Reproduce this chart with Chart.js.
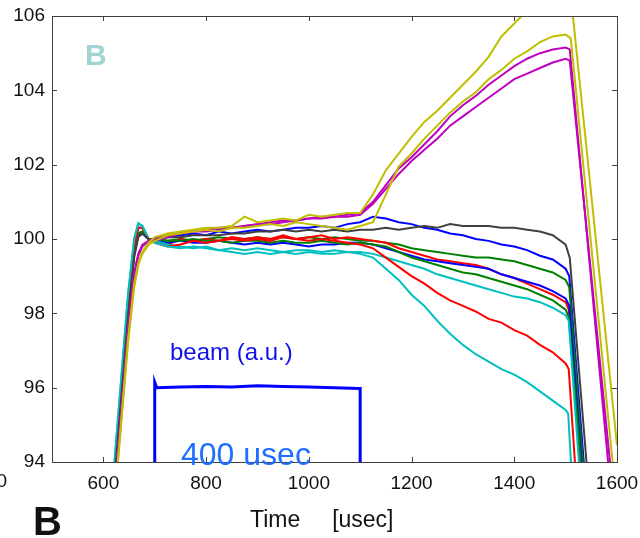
<!DOCTYPE html>
<html>
<head>
<meta charset="utf-8">
<title>Time [usec]</title>
<script src="https://cdn.jsdelivr.net/npm/chart.js@4/dist/chart.umd.min.js"></script>
<style>
  html, body { margin: 0; padding: 0; background: #fff; }
  #wrap { width: 640px; height: 538px; }
</style>
</head>
<body>
<div id="wrap"><canvas id="myChart" width="640" height="538"></canvas></div>
<script>
// time axis shared by all traces (usec)
const time = [610, 648, 660, 668, 676, 688,
  700, 725, 750, 775, 800, 825, 850, 875, 900, 925, 950, 975, 1000, 1025, 1050, 1075, 1100,
  1125, 1150, 1175, 1200, 1225, 1250, 1275, 1300, 1325, 1350, 1375, 1400, 1425, 1450, 1475, 1500];

const xTicks = [600, 800, 1000, 1200, 1400, 1600];
const yTicks = [94, 96, 98, 100, 102, 104, 106];

// traces
const yellow1 = [91.0, 97.3, 98.8, 99.35, 99.65, 99.9,
  100.05, 100.15, 100.2, 100.25, 100.3, 100.3, 100.35, 100.6, 100.45, 100.5, 100.55, 100.5, 100.65, 100.6, 100.65, 100.7, 100.7,
  101.2, 101.85, 102.3, 102.75, 103.15, 103.45, 103.8, 104.15, 104.5, 104.9, 105.45, 105.8, 106.15, 106.5, 106.8, 107.0];
const yellow1EndT = [1506, 1600, 1610];
const yellow1EndV = [107.1, 94.45, 93.1];

const yellow2 = [91.0, 97.2, 98.7, 99.3, 99.6, 99.85,
  99.95, 100.1, 100.15, 100.2, 100.25, 100.2, 100.3, 100.3, 100.35, 100.4, 100.35, 100.45, 100.4, 100.35, 100.3, 100.25, 100.35,
  100.45, 101.2, 101.95, 102.3, 102.7, 103.05, 103.4, 103.7, 103.95, 104.3, 104.55, 104.85, 105.05, 105.3, 105.45, 105.5];
const yellow2EndT = [1510, 1595];
const yellow2EndV = [105.4, 93.5];

const magenta1 = [91.3, 97.6, 99.1, 99.6, 99.85, 99.95,
  100.0, 100.1, 100.15, 100.2, 100.25, 100.3, 100.3, 100.35, 100.4, 100.45, 100.5, 100.5, 100.55, 100.6, 100.6, 100.65, 100.7,
  101.0, 101.45, 101.9, 102.2, 102.55, 102.9, 103.3, 103.6, 103.85, 104.15, 104.4, 104.65, 104.85, 105.0, 105.1, 105.15];
const magenta1EndT = [1508, 1586];
const magenta1EndV = [105.1, 93.5];

const magenta2 = [91.2, 97.5, 99.0, 99.55, 99.8, 99.95,
  99.95, 100.05, 100.15, 100.2, 100.2, 100.25, 100.3, 100.35, 100.4, 100.4, 100.45, 100.5, 100.55, 100.55, 100.6, 100.6, 100.65,
  100.95, 101.35, 101.75, 102.1, 102.4, 102.7, 103.05, 103.3, 103.55, 103.8, 104.05, 104.3, 104.45, 104.6, 104.75, 104.85];
const magenta2EndT = [1508, 1590];
const magenta2EndV = [104.8, 93.5];

const gray = [91.6, 97.9, 99.5, 100.05, 100.15, 100.0,
  100.0, 100.05, 100.05, 100.1, 100.1, 100.1, 100.15, 100.15, 100.2, 100.2, 100.25, 100.2, 100.25, 100.2, 100.25, 100.2, 100.25,
  100.25, 100.3, 100.25, 100.3, 100.35, 100.3, 100.4, 100.35, 100.35, 100.35, 100.3, 100.3, 100.25, 100.2, 100.1, 99.85];
const grayEndT = [1508, 1543];
const grayEndV = [99.5, 93.6];

const blue1 = [91.6, 98.0, 99.6, 100.1, 100.15, 100.0,
  100.0, 100.05, 100.1, 100.15, 100.1, 100.2, 100.15, 100.2, 100.25, 100.2, 100.25, 100.3, 100.3, 100.35, 100.3, 100.4, 100.45,
  100.6, 100.55, 100.45, 100.4, 100.3, 100.25, 100.15, 100.1, 100.0, 99.95, 99.85, 99.8, 99.7, 99.55, 99.45, 99.2];
const blue1EndT = [1507, 1537];
const blue1EndV = [99.0, 93.7];

const green1 = [91.6, 98.0, 99.6, 100.15, 100.2, 100.0,
  100.0, 99.95, 100.0, 99.95, 100.0, 100.05, 100.0, 100.0, 100.05, 100.0, 100.05, 100.0, 100.05, 100.0, 100.05, 100.0, 99.95,
  99.95, 99.9, 99.85, 99.75, 99.7, 99.65, 99.6, 99.55, 99.5, 99.5, 99.45, 99.4, 99.3, 99.2, 99.1, 98.9];
const green1EndT = [1507, 1535];
const green1EndV = [98.7, 93.7];

const red1 = [91.8, 98.2, 99.8, 100.3, 100.3, 100.0,
  99.95, 99.85, 100.0, 99.95, 100.0, 99.95, 100.05, 100.0, 100.05, 100.0, 100.1, 100.0, 100.05, 100.1, 100.0, 100.05, 100.0,
  99.95, 99.9, 99.75, 99.65, 99.55, 99.45, 99.4, 99.35, 99.3, 99.2, 99.05, 98.95, 98.8, 98.65, 98.5, 98.3];
const red1EndT = [1506, 1530];
const red1EndV = [98.1, 93.6];

const blue2 = [91.6, 98.0, 99.6, 100.1, 100.15, 100.0,
  99.95, 99.9, 99.95, 99.9, 99.9, 99.95, 99.9, 99.85, 99.9, 99.85, 99.9, 99.85, 99.8, 99.85, 99.85, 99.9, 99.9,
  99.85, 99.75, 99.65, 99.55, 99.45, 99.4, 99.35, 99.3, 99.25, 99.2, 99.05, 98.95, 98.85, 98.75, 98.6, 98.4];
const blue2EndT = [1507, 1533];
const blue2EndV = [98.2, 93.6];

const green2 = [91.6, 98.0, 99.6, 100.15, 100.2, 100.0,
  100.0, 99.95, 99.95, 100.0, 99.95, 99.95, 99.9, 99.95, 99.95, 99.9, 99.95, 99.9, 99.9, 99.95, 99.9, 99.85, 99.9,
  99.85, 99.8, 99.65, 99.5, 99.4, 99.3, 99.2, 99.1, 99.05, 98.95, 98.85, 98.75, 98.65, 98.5, 98.35, 98.1];
const green2EndT = [1506, 1532];
const green2EndV = [97.9, 93.6];

const cyan1 = [92.0, 98.5, 100.0, 100.42, 100.35, 100.0,
  99.95, 99.85, 99.8, 99.75, 99.8, 99.7, 99.75, 99.7, 99.75, 99.7, 99.65, 99.7, 99.7, 99.65, 99.7, 99.65, 99.65,
  99.6, 99.5, 99.4, 99.3, 99.2, 99.05, 98.95, 98.85, 98.75, 98.65, 98.55, 98.45, 98.4, 98.3, 98.15, 97.95];
const cyan1EndT = [1506, 1528];
const cyan1EndV = [97.8, 93.6];

const red2 = [91.8, 98.2, 99.8, 100.3, 100.3, 100.0,
  99.9, 99.8, 99.85, 99.95, 99.9, 99.95, 100.0, 99.95, 100.0, 99.95, 100.05, 100.0, 99.95, 100.0, 99.95, 99.9, 99.85,
  99.75, 99.5, 99.25, 99.0, 98.8, 98.55, 98.35, 98.2, 98.05, 97.85, 97.75, 97.55, 97.4, 97.15, 96.95, 96.65];
const red2EndT = [1506, 1520];
const red2EndV = [96.5, 93.6];

const cyan2 = [92.0, 98.5, 100.0, 100.42, 100.35, 100.0,
  99.9, 99.8, 99.75, 99.8, 99.75, 99.7, 99.65, 99.6, 99.65, 99.6, 99.65, 99.6, 99.65, 99.6, 99.6, 99.65, 99.6,
  99.5, 99.2, 98.9, 98.5, 98.2, 97.8, 97.45, 97.15, 96.9, 96.7, 96.5, 96.35, 96.15, 95.9, 95.65, 95.4];
const cyan2EndT = [1505, 1512];
const cyan2EndV = [95.3, 93.6];

// beam pulse (a.u.)
const beamTime = [700, 700, 704, 750, 800, 850, 900, 950, 1000, 1050, 1098, 1100, 1100];
const beamVal = [93.8, 96.15, 96.0, 96.02, 96.03, 96.02, 96.05, 96.03, 96.02, 96.0, 95.98, 95.98, 93.8];

const FONT = "'Liberation Sans', Arial, Helvetica, sans-serif";

function trace(vals, endT, endV) {
  const pts = time.map((t, i) => ({x: t, y: vals[i]}));
  endT.forEach((t, i) => pts.push({x: t, y: endV[i]}));
  return pts;
}

function line(label, pts, color, w) {
  return {
    label: label,
    data: pts,
    borderColor: color,
    backgroundColor: color,
    borderWidth: w || 2,
    pointRadius: 0,
    tension: 0,
    fill: false
  };
}

// box with inward ticks + annotations
const boxPlugin = {
  id: 'boxPlugin',
  afterDraw(chart) {
    const ctx = chart.ctx;
    const a = chart.chartArea;
    const xs = chart.scales.x, ys = chart.scales.y;
    ctx.save();
    ctx.strokeStyle = '#404040';
    ctx.lineWidth = 1;
    ctx.strokeRect(Math.round(a.left) + 0.5, Math.round(a.top) + 0.5,
      Math.round(a.right - a.left), Math.round(a.bottom - a.top));
    ctx.beginPath();
    xTicks.forEach(v => {
      const px = Math.round(xs.getPixelForValue(v)) + 0.5;
      ctx.moveTo(px, a.bottom); ctx.lineTo(px, a.bottom - 5);
      ctx.moveTo(px, a.top); ctx.lineTo(px, a.top + 5);
    });
    yTicks.forEach(v => {
      const py = Math.round(ys.getPixelForValue(v)) + 0.5;
      ctx.moveTo(a.left, py); ctx.lineTo(a.left + 5, py);
      ctx.moveTo(a.right, py); ctx.lineTo(a.right - 5, py);
    });
    ctx.stroke();

    // clipped "500" label at the left edge
    ctx.fillStyle = '#111';
    ctx.font = '19px ' + FONT;
    ctx.textAlign = 'right';
    ctx.textBaseline = 'top';
    ctx.fillText('500', 7, a.bottom + 10);

    ctx.textAlign = 'left';
    ctx.textBaseline = 'alphabetic';
    ctx.fillStyle = '#a3d3d3';
    ctx.font = 'bold 30px ' + FONT;
    ctx.fillText('B', 85, 65);

    ctx.fillStyle = '#111';
    ctx.font = 'bold 40px ' + FONT;
    ctx.fillText('B', 33, 535);

    ctx.fillStyle = '#1010e8';
    ctx.font = '24px ' + FONT;
    ctx.fillText('beam (a.u.)', 170, 360);

    ctx.fillStyle = '#1f6fff';
    ctx.font = '32px ' + FONT;
    ctx.fillText('400 usec', 181, 465);
    ctx.restore();
  }
};

const ctx = document.getElementById('myChart').getContext('2d');
const myChart = new Chart(ctx, {
  type: 'line',
  data: {
    datasets: [
      line('beam', beamTime.map((t, i) => ({x: t, y: beamVal[i]})), '#0000ff', 3),
      line('yellow1', trace(yellow1, yellow1EndT, yellow1EndV), '#bfbf00'),
      line('yellow2', trace(yellow2, yellow2EndT, yellow2EndV), '#bfbf00'),
      line('magenta1', trace(magenta1, magenta1EndT, magenta1EndV), '#bf00bf'),
      line('magenta2', trace(magenta2, magenta2EndT, magenta2EndV), '#bf00bf'),
      line('gray', trace(gray, grayEndT, grayEndV), '#404040'),
      line('cyan2', trace(cyan2, cyan2EndT, cyan2EndV), '#00bfbf'),
      line('red2', trace(red2, red2EndT, red2EndV), '#ff0000'),
      line('cyan1', trace(cyan1, cyan1EndT, cyan1EndV), '#00bfbf'),
      line('green2', trace(green2, green2EndT, green2EndV), '#008000'),
      line('blue2', trace(blue2, blue2EndT, blue2EndV), '#0000ff'),
      line('red1', trace(red1, red1EndT, red1EndV), '#ff0000'),
      line('green1', trace(green1, green1EndT, green1EndV), '#008000'),
      line('blue1', trace(blue1, blue1EndT, blue1EndV), '#0000ff')
    ]
  },
  options: {
    responsive: false,
    animation: false,
    layout: { padding: { top: 16, right: 23, left: 0, bottom: 0 } },
    plugins: { legend: { display: false }, tooltip: { enabled: false } },
    scales: {
      x: {
        type: 'linear',
        min: 500,
        max: 1600,
        grid: { display: false, drawTicks: false },
        border: { display: false },
        afterBuildTicks: s => { s.ticks = xTicks.map(v => ({value: v})); },
        afterFit: s => { s.height = 76; s.paddingLeft = 0; s.paddingRight = 0; },
        ticks: { color: '#111', font: { family: FONT, size: 19 }, padding: 10, maxRotation: 0,
                 callback: v => String(v) },
        title: {
          display: true,
          text: 'Time     [usec]    ',
          color: '#111',
          font: { family: FONT, size: 23 },
          padding: { top: 4, bottom: 4 }
        }
      },
      y: {
        min: 94,
        max: 106,
        grid: { display: false, drawTicks: false },
        border: { display: false },
        afterBuildTicks: s => { s.ticks = yTicks.map(v => ({value: v})); },
        afterFit: s => { s.width = 52; s.paddingTop = 0; s.paddingBottom = 0; },
        ticks: { color: '#111', font: { family: FONT, size: 19 }, padding: 7,
                 callback: v => String(v) }
      }
    }
  },
  plugins: [boxPlugin]
});
</script>
</body>
</html>
